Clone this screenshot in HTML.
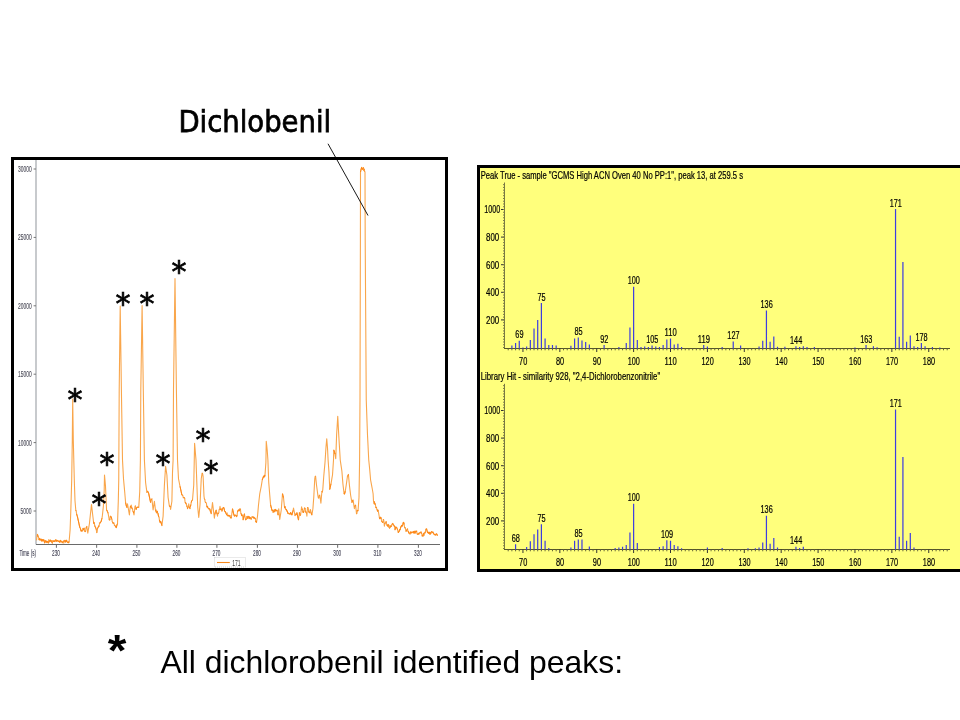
<!DOCTYPE html>
<html lang="en"><head><meta charset="utf-8"><title>Dichlobenil</title>
<style>html,body{margin:0;padding:0;background:#fff;}body{width:960px;height:720px;overflow:hidden;position:relative;font-family:"Liberation Sans",sans-serif;}svg{position:absolute;left:0;top:0;display:block;}text{white-space:pre;}</style>
</head><body>
<svg width="960" height="720" viewBox="0 0 960 720">
<defs><filter id="soft" x="-5%" y="-5%" width="110%" height="110%"><feGaussianBlur stdDeviation="0.35"/></filter></defs>
<rect width="960" height="720" fill="#ffffff"/>
<g id="chrom">
<rect x="12.5" y="158.5" width="434" height="411" fill="#ffffff" stroke="#000" stroke-width="3"/>
<g filter="url(#soft)">
<line x1="36.0" y1="160" x2="36.0" y2="544.5" stroke="#b0b4b8" stroke-width="1.4"/>
<line x1="36" y1="544.5" x2="440" y2="544.5" stroke="#6a6a6a" stroke-width="1"/>
<line x1="33.6" y1="169" x2="36" y2="169" stroke="#777" stroke-width="1"/>
<text x="31.6" y="172.0" font-size="8.3" fill="#50505c" text-anchor="end" textLength="13.5" lengthAdjust="spacingAndGlyphs" style='font-family:"Liberation Sans",sans-serif' stroke="#50505c" stroke-width="0.15">30000</text>
<line x1="33.6" y1="237.4" x2="36" y2="237.4" stroke="#777" stroke-width="1"/>
<text x="31.6" y="240.4" font-size="8.3" fill="#50505c" text-anchor="end" textLength="13.5" lengthAdjust="spacingAndGlyphs" style='font-family:"Liberation Sans",sans-serif' stroke="#50505c" stroke-width="0.15">25000</text>
<line x1="33.6" y1="305.8" x2="36" y2="305.8" stroke="#777" stroke-width="1"/>
<text x="31.6" y="308.8" font-size="8.3" fill="#50505c" text-anchor="end" textLength="13.5" lengthAdjust="spacingAndGlyphs" style='font-family:"Liberation Sans",sans-serif' stroke="#50505c" stroke-width="0.15">20000</text>
<line x1="33.6" y1="374.2" x2="36" y2="374.2" stroke="#777" stroke-width="1"/>
<text x="31.6" y="377.2" font-size="8.3" fill="#50505c" text-anchor="end" textLength="13.5" lengthAdjust="spacingAndGlyphs" style='font-family:"Liberation Sans",sans-serif' stroke="#50505c" stroke-width="0.15">15000</text>
<line x1="33.6" y1="442.6" x2="36" y2="442.6" stroke="#777" stroke-width="1"/>
<text x="31.6" y="445.6" font-size="8.3" fill="#50505c" text-anchor="end" textLength="13.5" lengthAdjust="spacingAndGlyphs" style='font-family:"Liberation Sans",sans-serif' stroke="#50505c" stroke-width="0.15">10000</text>
<line x1="33.6" y1="511" x2="36" y2="511" stroke="#777" stroke-width="1"/>
<text x="31.6" y="514.0" font-size="8.3" fill="#50505c" text-anchor="end" textLength="11" lengthAdjust="spacingAndGlyphs" style='font-family:"Liberation Sans",sans-serif' stroke="#50505c" stroke-width="0.15">5000</text>
<line x1="56.4" y1="544.5" x2="56.4" y2="547.8" stroke="#6c6c6c" stroke-width="1"/>
<text x="52.1" y="555.9" font-size="8.3" fill="#48485a" text-anchor="start" textLength="7.8" lengthAdjust="spacingAndGlyphs" style='font-family:"Liberation Sans",sans-serif' stroke="#48485a" stroke-width="0.15">230</text>
<line x1="96.65" y1="544.5" x2="96.65" y2="547.8" stroke="#6c6c6c" stroke-width="1"/>
<text x="92.35" y="555.9" font-size="8.3" fill="#48485a" text-anchor="start" textLength="7.8" lengthAdjust="spacingAndGlyphs" style='font-family:"Liberation Sans",sans-serif' stroke="#48485a" stroke-width="0.15">240</text>
<line x1="136.9" y1="544.5" x2="136.9" y2="547.8" stroke="#6c6c6c" stroke-width="1"/>
<text x="132.6" y="555.9" font-size="8.3" fill="#48485a" text-anchor="start" textLength="7.8" lengthAdjust="spacingAndGlyphs" style='font-family:"Liberation Sans",sans-serif' stroke="#48485a" stroke-width="0.15">250</text>
<line x1="176.9" y1="544.5" x2="176.9" y2="547.8" stroke="#6c6c6c" stroke-width="1"/>
<text x="172.6" y="555.9" font-size="8.3" fill="#48485a" text-anchor="start" textLength="7.8" lengthAdjust="spacingAndGlyphs" style='font-family:"Liberation Sans",sans-serif' stroke="#48485a" stroke-width="0.15">260</text>
<line x1="216.9" y1="544.5" x2="216.9" y2="547.8" stroke="#6c6c6c" stroke-width="1"/>
<text x="212.6" y="555.9" font-size="8.3" fill="#48485a" text-anchor="start" textLength="7.8" lengthAdjust="spacingAndGlyphs" style='font-family:"Liberation Sans",sans-serif' stroke="#48485a" stroke-width="0.15">270</text>
<line x1="257.4" y1="544.5" x2="257.4" y2="547.8" stroke="#6c6c6c" stroke-width="1"/>
<text x="253.1" y="555.9" font-size="8.3" fill="#48485a" text-anchor="start" textLength="7.8" lengthAdjust="spacingAndGlyphs" style='font-family:"Liberation Sans",sans-serif' stroke="#48485a" stroke-width="0.15">280</text>
<line x1="297.4" y1="544.5" x2="297.4" y2="547.8" stroke="#6c6c6c" stroke-width="1"/>
<text x="293.1" y="555.9" font-size="8.3" fill="#48485a" text-anchor="start" textLength="7.8" lengthAdjust="spacingAndGlyphs" style='font-family:"Liberation Sans",sans-serif' stroke="#48485a" stroke-width="0.15">290</text>
<line x1="337.65" y1="544.5" x2="337.65" y2="547.8" stroke="#6c6c6c" stroke-width="1"/>
<text x="333.35" y="555.9" font-size="8.3" fill="#48485a" text-anchor="start" textLength="7.8" lengthAdjust="spacingAndGlyphs" style='font-family:"Liberation Sans",sans-serif' stroke="#48485a" stroke-width="0.15">300</text>
<line x1="377.9" y1="544.5" x2="377.9" y2="547.8" stroke="#6c6c6c" stroke-width="1"/>
<text x="373.6" y="555.9" font-size="8.3" fill="#48485a" text-anchor="start" textLength="7.8" lengthAdjust="spacingAndGlyphs" style='font-family:"Liberation Sans",sans-serif' stroke="#48485a" stroke-width="0.15">310</text>
<line x1="418.4" y1="544.5" x2="418.4" y2="547.8" stroke="#6c6c6c" stroke-width="1"/>
<text x="414.1" y="555.9" font-size="8.3" fill="#48485a" text-anchor="start" textLength="7.8" lengthAdjust="spacingAndGlyphs" style='font-family:"Liberation Sans",sans-serif' stroke="#48485a" stroke-width="0.15">320</text>
<text x="19.4" y="555.9" font-size="8.3" fill="#48485a" text-anchor="start" textLength="16.6" lengthAdjust="spacingAndGlyphs" style='font-family:"Liberation Sans",sans-serif' stroke="#48485a" stroke-width="0.15">Time (s)</text>
<rect x="214.5" y="557.5" width="31" height="9.5" fill="#fff" stroke="#bbb" stroke-width="0.6" stroke-dasharray="1 1"/>
<line x1="217" y1="562.5" x2="229.8" y2="562.5" stroke="#f7891e" stroke-width="1.1"/>
<text x="232.2" y="566.2" font-size="9.5" fill="#444" text-anchor="start" textLength="8.4" lengthAdjust="spacingAndGlyphs" style='font-family:"Liberation Sans",sans-serif' >171</text>
<polyline points="36.50,540.40 36.90,537.30 37.30,534.20 37.65,534.75 38.00,536.50 38.45,536.76 38.90,539.40 39.30,540.06 39.70,538.25 40.10,539.97 40.50,540.00 40.88,539.84 41.25,539.10 41.62,540.93 42.00,541.20 42.38,539.55 42.75,540.82 43.12,539.51 43.50,540.90 43.88,539.86 44.25,541.34 44.62,543.06 45.00,542.30 45.38,540.70 45.75,540.71 46.12,541.76 46.50,541.00 46.88,542.72 47.25,541.66 47.62,541.25 48.00,541.80 48.38,543.12 48.75,539.66 49.12,542.12 49.50,540.60 49.93,540.18 50.37,539.99 50.80,541.50 51.20,540.57 51.60,541.58 52.00,542.60 52.38,543.22 52.75,540.61 53.12,541.53 53.50,540.80 53.88,541.47 54.25,540.77 54.62,541.56 55.00,541.60 55.42,539.91 55.84,539.70 56.26,540.00 56.68,541.41 57.10,540.60 57.48,540.57 57.86,540.41 58.24,541.55 58.62,541.32 59.00,541.70 59.40,540.88 59.80,542.42 60.20,541.96 60.60,540.27 61.00,541.00 61.40,541.43 61.80,541.45 62.20,542.82 62.60,542.50 63.00,541.90 63.40,541.04 63.80,543.25 64.20,540.18 64.60,541.06 65.00,541.20 65.40,542.19 65.80,540.26 66.20,541.52 66.60,540.11 67.00,541.80 67.42,542.31 67.84,542.58 68.26,541.87 68.68,542.84 69.10,541.50 69.60,535.75 70.10,530.00 70.45,520.50 70.80,511.00 71.25,495.50 71.70,480.00 72.30,440.00 72.70,399.00 73.30,440.00 73.80,460.00 74.30,480.00 74.65,490.40 75.00,500.80 75.40,505.50 75.80,510.20 76.20,511.14 76.60,514.01 77.00,515.25 77.40,516.50 77.80,518.31 78.20,520.12 78.60,521.94 79.00,523.75 79.50,526.10 80.00,527.90 80.42,528.37 80.84,530.30 81.26,531.27 81.68,530.29 82.10,531.00 82.52,530.96 82.94,528.31 83.36,529.89 83.78,529.10 84.20,528.00 84.70,531.48 85.20,531.60 85.60,531.39 86.00,528.27 86.40,527.31 86.80,526.40 87.30,529.75 87.80,533.10 88.20,530.76 88.60,528.42 89.00,526.09 89.40,523.75 89.90,519.08 90.40,514.40 90.77,511.10 91.13,507.80 91.50,504.50 92.00,508.90 92.50,513.30 93.00,517.50 93.50,521.70 93.90,523.57 94.30,522.68 94.70,525.47 95.10,526.90 95.50,527.20 95.90,528.45 96.30,529.68 96.70,532.60 97.11,532.15 97.52,528.62 97.93,527.66 98.34,526.79 98.75,525.80 99.16,526.24 99.57,522.73 99.98,523.17 100.39,522.69 100.80,521.70 101.20,521.43 101.60,519.64 102.00,518.21 102.40,515.40 102.90,510.70 103.40,506.00 103.80,498.20 104.20,490.40 104.50,475.00 105.00,480.62 105.50,486.25 105.87,494.23 106.23,502.22 106.60,510.20 106.97,510.22 107.35,511.46 107.72,512.04 108.10,513.30 108.47,515.40 108.83,517.50 109.20,519.60 109.58,520.13 109.95,519.61 110.33,516.09 110.70,516.50 111.10,516.70 111.50,518.19 111.90,519.49 112.30,521.70 112.72,522.37 113.14,523.44 113.56,523.05 113.98,522.89 114.40,525.30 114.78,525.42 115.15,525.66 115.53,526.73 115.90,526.90 116.30,527.65 116.70,525.97 117.10,524.59 117.50,523.75 117.90,512.27 118.30,500.80 118.75,480.00 119.20,390.00 119.70,348.00 120.20,306.00 120.60,334.00 121.00,362.00 121.40,390.00 121.77,413.33 122.13,436.67 122.50,460.00 123.00,469.38 123.50,478.75 123.92,483.33 124.33,487.92 124.75,492.50 125.17,497.50 125.60,502.50 126.03,504.57 126.47,506.43 126.90,507.50 127.50,503.75 127.88,506.00 128.26,508.25 128.64,510.50 129.02,512.75 129.40,515.00 130.00,508.75 130.42,505.98 130.83,507.61 131.25,505.00 131.67,507.20 132.08,508.77 132.50,508.75 132.88,511.33 133.25,511.51 133.62,513.09 134.00,515.00 134.50,510.62 135.00,506.25 135.42,505.95 135.83,508.81 136.25,509.40 136.67,507.59 137.08,507.30 137.50,507.46 137.92,506.99 138.33,507.27 138.75,507.50 139.25,499.38 139.75,491.25 140.07,475.62 140.40,460.00 140.80,390.00 141.23,361.87 141.67,333.73 142.10,305.60 142.50,333.73 142.90,361.87 143.30,390.00 143.67,413.33 144.03,436.67 144.40,460.00 144.80,467.50 145.20,475.00 145.60,482.50 146.03,485.83 146.47,489.17 146.90,492.50 147.36,491.29 147.82,491.43 148.29,492.25 148.75,493.75 149.21,495.94 149.68,498.12 150.14,500.31 150.60,502.50 151.03,499.89 151.47,499.54 151.90,498.75 152.30,502.50 152.70,506.25 153.10,510.00 153.53,507.08 153.97,504.17 154.40,501.25 154.80,504.58 155.20,507.92 155.60,511.25 155.98,509.89 156.36,513.02 156.74,512.39 157.12,511.06 157.50,512.50 157.88,513.16 158.26,514.98 158.64,516.54 159.02,517.22 159.40,520.00 159.80,521.60 160.20,522.51 160.60,521.25 161.03,522.58 161.47,524.10 161.90,525.60 162.30,522.48 162.70,519.37 163.10,516.25 163.53,505.83 163.97,495.42 164.40,485.00 164.80,478.75 165.20,472.50 165.60,466.25 166.03,469.17 166.47,472.08 166.90,475.00 167.30,482.50 167.70,490.00 168.10,497.50 168.53,500.42 168.97,503.33 169.40,506.25 169.80,505.89 170.20,507.00 170.60,509.40 171.03,506.68 171.47,503.97 171.90,501.25 172.50,472.50 173.10,460.00 173.50,390.00 173.88,362.12 174.25,334.25 174.62,306.38 175.00,278.50 175.47,315.67 175.93,352.83 176.40,390.00 176.77,413.33 177.13,436.67 177.50,460.00 178.00,469.38 178.50,478.75 178.88,480.62 179.25,482.50 179.62,484.38 180.00,486.25 180.38,488.00 180.76,489.75 181.14,491.50 181.52,493.25 181.90,495.00 182.36,495.09 182.82,495.45 183.29,497.99 183.75,497.50 184.21,497.60 184.68,498.38 185.14,502.78 185.60,502.50 185.98,503.85 186.36,503.80 186.74,506.40 187.12,505.89 187.50,508.75 187.92,507.18 188.33,507.04 188.75,503.75 189.17,506.65 189.58,507.75 190.00,508.75 190.42,506.67 190.83,504.58 191.25,502.50 191.67,500.85 192.08,500.38 192.50,500.00 192.92,495.00 193.33,490.00 193.75,485.00 194.18,464.15 194.60,443.30 195.07,448.87 195.53,454.43 196.00,460.00 196.45,472.50 196.90,485.00 197.32,496.25 197.75,507.50 198.25,512.50 198.75,517.50 199.17,513.33 199.58,509.17 200.00,505.00 200.42,496.25 200.83,487.50 201.25,478.75 201.68,475.93 202.10,473.10 202.60,473.54 203.10,476.25 203.55,486.25 204.00,496.25 204.40,498.74 204.80,499.49 205.20,501.89 205.60,502.50 205.98,502.67 206.36,503.06 206.74,505.81 207.12,507.15 207.50,506.25 207.88,507.95 208.26,508.29 208.64,508.83 209.02,509.07 209.40,508.75 209.86,509.07 210.32,511.31 210.79,512.01 211.25,513.75 211.67,510.00 212.08,506.25 212.50,502.50 212.88,505.62 213.26,508.74 213.64,511.86 214.02,514.98 214.40,518.10 214.86,514.47 215.32,512.44 215.79,511.28 216.25,510.00 216.67,512.08 217.08,514.17 217.50,516.25 217.92,513.76 218.33,513.57 218.75,512.80 219.17,509.40 219.58,509.40 220.00,506.25 220.38,508.91 220.76,509.80 221.14,508.79 221.52,509.30 221.90,511.25 222.36,509.38 222.82,508.34 223.29,507.43 223.75,507.50 224.17,508.96 224.58,510.94 225.00,511.78 225.42,511.60 225.83,513.23 226.25,513.75 226.67,514.98 227.08,512.75 227.50,514.92 227.92,515.98 228.33,515.75 228.75,515.00 229.17,516.37 229.58,515.96 230.00,515.46 230.42,518.05 230.83,517.01 231.25,518.10 231.67,514.98 232.08,511.87 232.50,508.75 232.87,510.42 233.23,512.08 233.60,513.75 234.07,515.19 234.53,516.19 235.00,515.00 235.42,515.06 235.83,515.50 236.25,516.25 236.67,516.73 237.08,514.93 237.50,512.00 237.92,510.82 238.33,509.86 238.75,510.00 239.17,510.96 239.58,510.21 240.00,508.75 240.42,509.21 240.83,513.19 241.25,513.75 241.67,515.80 242.08,515.12 242.50,515.00 243.10,520.00 243.53,517.92 243.97,515.83 244.40,513.75 244.80,515.83 245.20,517.92 245.60,520.00 245.98,518.99 246.36,519.17 246.74,517.25 247.12,516.35 247.50,517.50 247.92,518.68 248.33,517.18 248.75,516.25 249.21,516.80 249.68,518.65 250.14,517.41 250.60,518.10 251.02,519.26 251.43,519.01 251.85,516.82 252.27,516.86 252.68,516.90 253.10,517.50 253.48,516.87 253.86,518.29 254.24,517.43 254.62,518.22 255.00,518.75 255.38,518.43 255.75,522.02 256.12,521.07 256.50,522.50 257.00,519.38 257.50,516.25 258.00,510.62 258.50,505.00 258.92,501.25 259.33,497.50 259.75,493.75 260.12,491.88 260.50,490.00 260.88,488.12 261.25,486.25 261.75,483.12 262.25,480.00 262.67,478.61 263.08,477.78 263.50,476.25 263.88,477.31 264.25,475.36 264.62,476.73 265.00,475.00 265.45,468.75 265.90,462.50 266.25,441.25 266.73,445.62 267.20,450.00 267.55,455.00 267.90,460.00 268.32,471.25 268.75,482.50 269.25,488.75 269.75,495.00 270.18,500.00 270.60,505.00 271.03,506.67 271.47,508.44 271.90,510.00 272.30,510.91 272.70,510.03 273.10,512.50 273.48,511.92 273.86,510.66 274.24,509.67 274.62,512.00 275.00,510.60 275.38,509.37 275.76,510.27 276.14,511.01 276.52,510.31 276.90,510.00 277.30,511.08 277.70,513.40 278.10,515.00 278.43,511.88 278.75,508.75 279.25,514.08 279.75,519.40 280.12,517.05 280.50,514.70 280.88,512.35 281.25,510.00 281.67,504.58 282.08,499.17 282.50,493.75 283.00,495.81 283.50,497.50 283.95,501.88 284.40,506.25 284.80,508.05 285.20,506.58 285.60,508.75 286.03,509.79 286.47,509.56 286.90,511.25 287.36,511.12 287.82,513.43 288.29,513.15 288.75,513.75 289.21,513.65 289.68,514.01 290.14,514.21 290.60,512.50 291.03,513.14 291.47,514.55 291.90,515.00 292.30,513.29 292.70,511.59 293.10,510.48 293.50,508.10 293.88,509.98 294.25,511.85 294.62,513.73 295.00,515.60 295.38,514.82 295.76,514.47 296.14,513.67 296.52,514.62 296.90,512.50 297.30,514.38 297.70,516.25 298.10,518.12 298.50,520.00 298.95,516.25 299.40,512.50 299.80,514.01 300.20,515.45 300.60,515.00 301.10,510.95 301.60,506.90 301.98,509.80 302.35,508.88 302.73,511.30 303.10,512.50 303.53,512.54 303.97,510.72 304.40,508.10 304.80,507.92 305.20,508.91 305.60,511.25 306.03,512.72 306.47,513.13 306.90,516.25 307.50,507.50 307.88,507.62 308.26,508.05 308.64,511.08 309.02,512.47 309.40,512.50 309.80,513.02 310.20,509.66 310.60,510.00 311.03,512.40 311.47,513.88 311.90,515.00 312.40,511.88 312.90,508.75 313.32,503.12 313.75,497.50 314.25,488.12 314.75,478.75 315.18,476.29 315.60,476.25 316.05,480.62 316.50,485.00 317.00,488.75 317.50,492.50 317.92,495.67 318.33,497.82 318.75,498.10 319.25,495.60 319.75,495.00 320.13,497.70 320.52,500.40 320.90,503.10 321.40,497.18 321.90,491.25 322.32,492.16 322.75,490.00 323.25,483.12 323.75,476.25 324.17,471.67 324.58,467.08 325.00,462.50 325.50,454.75 326.00,447.00 326.38,442.88 326.75,438.75 327.12,443.38 327.50,448.00 328.10,460.00 328.55,466.25 329.00,472.50 329.38,480.95 329.75,489.40 330.17,487.52 330.58,485.63 331.00,483.75 331.38,481.56 331.75,479.38 332.12,477.19 332.50,475.00 333.00,467.50 333.50,460.00 333.75,450.00 334.17,450.99 334.58,452.62 335.00,454.00 335.38,456.38 335.75,458.75 336.18,446.88 336.60,435.00 336.98,428.75 337.37,422.50 337.75,416.25 338.10,422.83 338.45,429.42 338.80,436.00 339.28,444.00 339.77,452.00 340.25,460.00 340.66,462.81 341.07,465.62 341.49,468.44 341.90,471.25 342.40,477.50 342.90,483.75 343.27,486.87 343.63,489.98 344.00,493.10 344.42,494.15 344.83,493.00 345.25,491.25 345.75,488.12 346.25,485.00 346.68,481.88 347.10,478.75 347.53,476.15 347.97,475.62 348.40,474.40 348.90,479.70 349.40,485.00 349.80,488.33 350.20,491.67 350.60,495.00 351.03,497.50 351.47,500.00 351.90,502.50 352.30,501.72 352.70,500.29 353.10,500.00 353.53,502.92 353.97,505.83 354.40,508.75 354.80,506.47 355.20,505.63 355.60,505.00 356.05,509.38 356.50,513.75 356.90,513.57 357.30,510.24 357.70,511.12 358.10,510.00 358.55,503.75 359.00,497.50 359.60,460.00 360.00,400.00 360.40,240.00 360.50,172.00 360.85,170.30 361.20,169.00 361.64,167.36 362.09,168.43 362.53,169.42 362.97,169.04 363.41,167.52 363.86,170.65 364.30,169.00 364.65,171.48 365.00,172.00 365.20,240.00 365.55,293.33 365.90,346.67 366.25,400.00 366.67,411.67 367.08,423.33 367.50,435.00 367.92,443.33 368.33,451.67 368.75,460.00 369.25,465.00 369.75,470.00 370.18,475.00 370.60,480.00 371.01,482.19 371.43,484.38 371.84,486.56 372.25,488.75 372.68,491.25 373.10,493.75 373.50,501.25 373.88,503.64 374.25,501.48 374.62,502.82 375.00,504.40 375.38,503.95 375.76,507.59 376.14,506.98 376.52,507.62 376.90,510.00 377.30,509.74 377.70,511.40 378.10,510.00 378.53,512.50 378.97,515.00 379.40,517.50 379.86,518.90 380.32,517.30 380.79,517.25 381.25,518.75 381.67,521.43 382.08,521.49 382.50,522.50 382.92,522.35 383.33,519.44 383.75,520.00 384.07,523.12 384.40,526.25 384.80,523.30 385.20,523.99 385.60,521.90 385.98,522.27 386.36,521.69 386.74,525.25 387.12,524.84 387.50,525.00 387.92,526.44 388.33,524.42 388.75,527.46 389.17,525.19 389.58,528.32 390.00,527.50 390.38,526.72 390.76,525.71 391.14,525.82 391.52,526.47 391.90,524.40 392.36,523.76 392.82,523.44 393.29,524.94 393.75,525.00 394.17,525.78 394.58,527.01 395.00,530.00 395.42,528.02 395.83,526.80 396.25,527.50 396.70,527.49 397.15,528.86 397.60,529.84 398.05,532.38 398.50,532.50 398.88,531.16 399.25,531.25 399.62,529.53 400.00,530.00 400.38,528.73 400.76,526.86 401.14,526.90 401.52,525.35 401.90,526.25 402.36,526.10 402.82,524.55 403.29,522.38 403.75,522.50 404.17,524.28 404.58,527.71 405.00,528.10 405.42,527.81 405.83,531.28 406.25,531.25 406.67,530.19 407.08,529.57 407.50,528.75 407.92,531.34 408.33,531.29 408.75,533.10 409.17,532.92 409.58,533.34 410.00,534.14 410.42,531.77 410.83,533.23 411.25,531.90 411.67,532.80 412.08,532.76 412.50,532.18 412.92,532.18 413.33,531.38 413.75,533.10 414.17,531.64 414.58,531.24 415.00,533.32 415.42,531.47 415.83,530.96 416.25,531.90 416.67,530.90 417.08,533.89 417.50,534.41 417.92,534.15 418.33,533.24 418.75,534.40 419.21,533.05 419.68,532.75 420.14,532.84 420.60,532.50 420.98,531.84 421.36,533.32 421.74,533.20 422.12,536.07 422.50,535.00 422.92,536.29 423.33,534.53 423.75,533.18 424.17,535.32 424.58,532.77 425.00,533.10 425.38,531.52 425.75,529.23 426.12,529.44 426.50,528.75 427.00,530.54 427.50,532.50 427.92,532.83 428.33,532.12 428.75,533.47 429.17,532.08 429.58,533.28 430.00,534.40 430.42,532.69 430.83,533.43 431.25,531.89 431.67,531.51 432.08,532.15 432.50,532.50 432.92,531.91 433.33,533.42 433.75,533.55 434.17,534.62 434.58,534.62 435.00,534.40 435.42,534.92 435.83,535.26 436.25,533.75 436.67,533.99 437.08,534.39 437.50,535.60" fill="none" stroke="#f9a64c" stroke-width="1.1" stroke-linejoin="round"/>
<path d="M37.30 534.20L37.65 534.75L38.00 536.50L38.45 536.76M38.90 539.40L39.30 540.06L39.70 538.25L40.10 539.97L40.50 540.00L40.88 539.84L41.25 539.10L41.62 540.93L42.00 541.20L42.38 539.55L42.75 540.82L43.12 539.51L43.50 540.90L43.88 539.86L44.25 541.34L44.62 543.06L45.00 542.30L45.38 540.70L45.75 540.71L46.12 541.76L46.50 541.00L46.88 542.72L47.25 541.66L47.62 541.25L48.00 541.80L48.38 543.12M49.12 542.12L49.50 540.60L49.93 540.18L50.37 539.99L50.80 541.50L51.20 540.57L51.60 541.58L52.00 542.60L52.38 543.22M52.75 540.61L53.12 541.53L53.50 540.80L53.88 541.47L54.25 540.77L54.62 541.56L55.00 541.60L55.42 539.91L55.84 539.70L56.26 540.00L56.68 541.41L57.10 540.60L57.48 540.57L57.86 540.41L58.24 541.55L58.62 541.32L59.00 541.70L59.40 540.88L59.80 542.42L60.20 541.96L60.60 540.27L61.00 541.00L61.40 541.43L61.80 541.45L62.20 542.82L62.60 542.50L63.00 541.90L63.40 541.04M64.20 540.18L64.60 541.06L65.00 541.20L65.40 542.19L65.80 540.26L66.20 541.52L66.60 540.11L67.00 541.80L67.42 542.31L67.84 542.58L68.26 541.87L68.68 542.84L69.10 541.50M75.80 510.20L76.20 511.14M76.60 514.01L77.00 515.25L77.40 516.50L77.80 518.31L78.20 520.12L78.60 521.94L79.00 523.75L79.50 526.10L80.00 527.90L80.42 528.37L80.84 530.30L81.26 531.27L81.68 530.29L82.10 531.00L82.52 530.96M82.94 528.31L83.36 529.89L83.78 529.10L84.20 528.00M84.70 531.48L85.20 531.60L85.60 531.39M86.00 528.27L86.40 527.31L86.80 526.40M93.50 521.70L93.90 523.57L94.30 522.68M94.70 525.47L95.10 526.90L95.50 527.20L95.90 528.45L96.30 529.68M96.70 532.60L97.11 532.15M97.52 528.62L97.93 527.66L98.34 526.79L98.75 525.80L99.16 526.24M99.57 522.73L99.98 523.17L100.39 522.69L100.80 521.70L101.20 521.43L101.60 519.64L102.00 518.21M106.60 510.20L106.97 510.22L107.35 511.46L107.72 512.04L108.10 513.30M109.20 519.60L109.58 520.13L109.95 519.61M110.33 516.09L110.70 516.50L111.10 516.70L111.50 518.19L111.90 519.49M112.30 521.70L112.72 522.37L113.14 523.44L113.56 523.05L113.98 522.89M114.40 525.30L114.78 525.42L115.15 525.66L115.53 526.73L115.90 526.90L116.30 527.65L116.70 525.97L117.10 524.59L117.50 523.75M125.60 502.50L126.03 504.57L126.47 506.43L126.90 507.50M130.42 505.98L130.83 507.61M131.67 507.20L132.08 508.77L132.50 508.75M132.88 511.33L133.25 511.51L133.62 513.09M135.00 506.25L135.42 505.95M135.83 508.81L136.25 509.40L136.67 507.59L137.08 507.30L137.50 507.46L137.92 506.99L138.33 507.27L138.75 507.50M146.90 492.50L147.36 491.29L147.82 491.43L148.29 492.25L148.75 493.75L149.21 495.94L149.68 498.12L150.14 500.31L150.60 502.50M151.03 499.89L151.47 499.54L151.90 498.75M155.60 511.25L155.98 509.89M156.36 513.02L156.74 512.39L157.12 511.06L157.50 512.50L157.88 513.16L158.26 514.98L158.64 516.54L159.02 517.22M159.40 520.00L159.80 521.60L160.20 522.51L160.60 521.25L161.03 522.58L161.47 524.10L161.90 525.60M169.40 506.25L169.80 505.89L170.20 507.00M180.00 486.25L180.38 488.00L180.76 489.75L181.14 491.50L181.52 493.25L181.90 495.00L182.36 495.09L182.82 495.45M183.29 497.99L183.75 497.50L184.21 497.60L184.68 498.38M185.14 502.78L185.60 502.50L185.98 503.85L186.36 503.80M186.74 506.40L187.12 505.89M187.50 508.75L187.92 507.18L188.33 507.04M189.17 506.65L189.58 507.75L190.00 508.75M190.42 506.67L190.83 504.58M191.25 502.50L191.67 500.85L192.08 500.38L192.50 500.00M202.10 473.10L202.60 473.54M204.40 498.74L204.80 499.49M205.20 501.89L205.60 502.50L205.98 502.67L206.36 503.06M206.74 505.81L207.12 507.15L207.50 506.25L207.88 507.95L208.26 508.29L208.64 508.83L209.02 509.07L209.40 508.75L209.86 509.07L210.32 511.31L210.79 512.01L211.25 513.75M214.86 514.47L215.32 512.44L215.79 511.28L216.25 510.00M216.67 512.08L217.08 514.17M217.92 513.76L218.33 513.57L218.75 512.80M219.17 509.40L219.58 509.40M220.38 508.91L220.76 509.80L221.14 508.79L221.52 509.30M221.90 511.25L222.36 509.38L222.82 508.34L223.29 507.43L223.75 507.50L224.17 508.96L224.58 510.94L225.00 511.78L225.42 511.60L225.83 513.23L226.25 513.75L226.67 514.98M227.50 514.92L227.92 515.98L228.33 515.75L228.75 515.00L229.17 516.37L229.58 515.96L230.00 515.46M230.42 518.05L230.83 517.01L231.25 518.10M232.50 508.75L232.87 510.42L233.23 512.08L233.60 513.75L234.07 515.19L234.53 516.19L235.00 515.00L235.42 515.06L235.83 515.50L236.25 516.25L236.67 516.73L237.08 514.93M237.50 512.00L237.92 510.82L238.33 509.86L238.75 510.00L239.17 510.96L239.58 510.21L240.00 508.75L240.42 509.21M240.83 513.19L241.25 513.75L241.67 515.80L242.08 515.12L242.50 515.00M243.10 520.00L243.53 517.92L243.97 515.83L244.40 513.75M245.60 520.00L245.98 518.99L246.36 519.17M246.74 517.25L247.12 516.35L247.50 517.50L247.92 518.68L248.33 517.18L248.75 516.25L249.21 516.80L249.68 518.65L250.14 517.41L250.60 518.10L251.02 519.26L251.43 519.01M251.85 516.82L252.27 516.86L252.68 516.90L253.10 517.50L253.48 516.87L253.86 518.29L254.24 517.43L254.62 518.22L255.00 518.75L255.38 518.43M255.75 522.02L256.12 521.07L256.50 522.50M262.25 480.00L262.67 478.61L263.08 477.78L263.50 476.25L263.88 477.31M264.25 475.36L264.62 476.73L265.00 475.00M270.60 505.00L271.03 506.67L271.47 508.44L271.90 510.00L272.30 510.91L272.70 510.03M273.10 512.50L273.48 511.92L273.86 510.66L274.24 509.67M274.62 512.00L275.00 510.60L275.38 509.37L275.76 510.27L276.14 511.01L276.52 510.31L276.90 510.00L277.30 511.08M277.70 513.40L278.10 515.00M282.50 493.75L283.00 495.81L283.50 497.50M284.40 506.25L284.80 508.05L285.20 506.58M285.60 508.75L286.03 509.79L286.47 509.56L286.90 511.25L287.36 511.12L287.82 513.43L288.29 513.15L288.75 513.75L289.21 513.65L289.68 514.01L290.14 514.21L290.60 512.50L291.03 513.14L291.47 514.55L291.90 515.00L292.30 513.29L292.70 511.59L293.10 510.48M295.00 515.60L295.38 514.82L295.76 514.47L296.14 513.67L296.52 514.62M296.90 512.50L297.30 514.38L297.70 516.25L298.10 518.12L298.50 520.00M299.40 512.50L299.80 514.01L300.20 515.45L300.60 515.00M301.98 509.80L302.35 508.88M302.73 511.30L303.10 512.50L303.53 512.54L303.97 510.72M304.40 508.10L304.80 507.92L305.20 508.91M305.60 511.25L306.03 512.72L306.47 513.13M307.50 507.50L307.88 507.62L308.26 508.05M308.64 511.08L309.02 512.47L309.40 512.50L309.80 513.02M310.20 509.66L310.60 510.00M311.03 512.40L311.47 513.88L311.90 515.00M315.18 476.29L315.60 476.25M318.33 497.82L318.75 498.10M319.25 495.60L319.75 495.00M321.90 491.25L322.32 492.16M329.75 489.40L330.17 487.52L330.58 485.63L331.00 483.75M333.75 450.00L334.17 450.99L334.58 452.62L335.00 454.00M344.00 493.10L344.42 494.15L344.83 493.00L345.25 491.25M347.53 476.15L347.97 475.62L348.40 474.40M351.90 502.50L352.30 501.72L352.70 500.29L353.10 500.00M354.80 506.47L355.20 505.63L355.60 505.00M356.50 513.75L356.90 513.57M357.30 510.24L357.70 511.12L358.10 510.00M360.50 172.00L360.85 170.30L361.20 169.00L361.64 167.36L362.09 168.43L362.53 169.42L362.97 169.04L363.41 167.52M363.86 170.65L364.30 169.00M364.65 171.48L365.00 172.00M374.25 501.48L374.62 502.82L375.00 504.40L375.38 503.95M375.76 507.59L376.14 506.98L376.52 507.62M376.90 510.00L377.30 509.74L377.70 511.40L378.10 510.00M379.40 517.50L379.86 518.90L380.32 517.30L380.79 517.25L381.25 518.75M381.67 521.43L382.08 521.49L382.50 522.50L382.92 522.35M383.33 519.44L383.75 520.00M384.80 523.30L385.20 523.99M385.60 521.90L385.98 522.27L386.36 521.69M386.74 525.25L387.12 524.84L387.50 525.00L387.92 526.44L388.33 524.42M389.58 528.32L390.00 527.50L390.38 526.72L390.76 525.71L391.14 525.82L391.52 526.47M391.90 524.40L392.36 523.76L392.82 523.44L393.29 524.94L393.75 525.00L394.17 525.78L394.58 527.01M395.00 530.00L395.42 528.02L395.83 526.80L396.25 527.50L396.70 527.49L397.15 528.86L397.60 529.84M398.05 532.38L398.50 532.50L398.88 531.16L399.25 531.25L399.62 529.53L400.00 530.00L400.38 528.73L400.76 526.86L401.14 526.90L401.52 525.35L401.90 526.25L402.36 526.10L402.82 524.55L403.29 522.38L403.75 522.50L404.17 524.28M404.58 527.71L405.00 528.10L405.42 527.81M405.83 531.28L406.25 531.25L406.67 530.19L407.08 529.57L407.50 528.75M407.92 531.34L408.33 531.29L408.75 533.10L409.17 532.92L409.58 533.34L410.00 534.14M410.42 531.77L410.83 533.23L411.25 531.90L411.67 532.80L412.08 532.76L412.50 532.18L412.92 532.18L413.33 531.38L413.75 533.10L414.17 531.64L414.58 531.24L415.00 533.32L415.42 531.47L415.83 530.96L416.25 531.90L416.67 530.90M417.08 533.89L417.50 534.41L417.92 534.15L418.33 533.24L418.75 534.40L419.21 533.05L419.68 532.75L420.14 532.84L420.60 532.50L420.98 531.84L421.36 533.32L421.74 533.20M422.12 536.07L422.50 535.00L422.92 536.29L423.33 534.53L423.75 533.18M424.58 532.77L425.00 533.10L425.38 531.52M425.75 529.23L426.12 529.44L426.50 528.75L427.00 530.54L427.50 532.50L427.92 532.83L428.33 532.12L428.75 533.47L429.17 532.08L429.58 533.28L430.00 534.40L430.42 532.69L430.83 533.43L431.25 531.89L431.67 531.51L432.08 532.15L432.50 532.50L432.92 531.91L433.33 533.42L433.75 533.55L434.17 534.62L434.58 534.62L435.00 534.40L435.42 534.92L435.83 535.26L436.25 533.75L436.67 533.99L437.08 534.39L437.50 535.60" fill="none" stroke="#ff8514" stroke-width="1" stroke-linejoin="round"/>
</g>
</g>
<text x="123.00" y="313.60" font-size="30" text-anchor="middle" stroke="#000" stroke-width="0.75" stroke-linejoin="miter" style='font-family:"DejaVu Sans",sans-serif'>*</text>
<text x="147.00" y="313.60" font-size="30" text-anchor="middle" stroke="#000" stroke-width="0.75" stroke-linejoin="miter" style='font-family:"DejaVu Sans",sans-serif'>*</text>
<text x="179.00" y="281.70" font-size="30" text-anchor="middle" stroke="#000" stroke-width="0.75" stroke-linejoin="miter" style='font-family:"DejaVu Sans",sans-serif'>*</text>
<text x="74.95" y="409.65" font-size="30" text-anchor="middle" stroke="#000" stroke-width="0.75" stroke-linejoin="miter" style='font-family:"DejaVu Sans",sans-serif'>*</text>
<text x="107.00" y="473.70" font-size="30" text-anchor="middle" stroke="#000" stroke-width="0.75" stroke-linejoin="miter" style='font-family:"DejaVu Sans",sans-serif'>*</text>
<text x="98.90" y="513.70" font-size="30" text-anchor="middle" stroke="#000" stroke-width="0.75" stroke-linejoin="miter" style='font-family:"DejaVu Sans",sans-serif'>*</text>
<text x="163.00" y="473.70" font-size="30" text-anchor="middle" stroke="#000" stroke-width="0.75" stroke-linejoin="miter" style='font-family:"DejaVu Sans",sans-serif'>*</text>
<text x="203.00" y="449.60" font-size="30" text-anchor="middle" stroke="#000" stroke-width="0.75" stroke-linejoin="miter" style='font-family:"DejaVu Sans",sans-serif'>*</text>
<text x="211.10" y="481.70" font-size="30" text-anchor="middle" stroke="#000" stroke-width="0.75" stroke-linejoin="miter" style='font-family:"DejaVu Sans",sans-serif'>*</text>
<g id="ms">
<rect x="477" y="165" width="490" height="407" fill="#000"/>
<rect x="480" y="168" width="485" height="401" fill="#ffff7c"/>
<g filter="url(#soft)">
<text x="480.7" y="178.8" font-size="10.5" fill="#000" text-anchor="start" textLength="262.3" lengthAdjust="spacingAndGlyphs" style='font-family:"Liberation Sans",sans-serif' stroke="#000" stroke-width="0.22">Peak True - sample &quot;GCMS High ACN Oven 40 No PP:1&quot;, peak 13, at 259.5 s</text>
<line x1="504.5" y1="182.5" x2="504.5" y2="348.5" stroke="#6a6a3c" stroke-width="0.9"/>
<line x1="504" y1="348.5" x2="950" y2="348.5" stroke="#55552a" stroke-width="1"/>
<line x1="501" y1="319.90" x2="504" y2="319.90" stroke="#333" stroke-width="1"/>
<text x="499.2" y="323.7" font-size="11" fill="#000" text-anchor="end" textLength="13.2" lengthAdjust="spacingAndGlyphs" style='font-family:"Liberation Sans",sans-serif' stroke="#000" stroke-width="0.22">200</text>
<line x1="501" y1="292.30" x2="504" y2="292.30" stroke="#333" stroke-width="1"/>
<text x="499.2" y="296.1" font-size="11" fill="#000" text-anchor="end" textLength="13.2" lengthAdjust="spacingAndGlyphs" style='font-family:"Liberation Sans",sans-serif' stroke="#000" stroke-width="0.22">400</text>
<line x1="501" y1="264.70" x2="504" y2="264.70" stroke="#333" stroke-width="1"/>
<text x="499.2" y="268.5" font-size="11" fill="#000" text-anchor="end" textLength="13.2" lengthAdjust="spacingAndGlyphs" style='font-family:"Liberation Sans",sans-serif' stroke="#000" stroke-width="0.22">600</text>
<line x1="501" y1="237.10" x2="504" y2="237.10" stroke="#333" stroke-width="1"/>
<text x="499.2" y="240.9" font-size="11" fill="#000" text-anchor="end" textLength="13.2" lengthAdjust="spacingAndGlyphs" style='font-family:"Liberation Sans",sans-serif' stroke="#000" stroke-width="0.22">800</text>
<line x1="501" y1="209.50" x2="504" y2="209.50" stroke="#333" stroke-width="1"/>
<text x="500.2" y="213.3" font-size="11" fill="#000" text-anchor="end" textLength="16.0" lengthAdjust="spacingAndGlyphs" style='font-family:"Liberation Sans",sans-serif' stroke="#000" stroke-width="0.22">1000</text>
<path d="M503 347.50H504M503 344.74H504M503 341.98H504M503 339.22H504M503 336.46H504M503 333.70H504M503 330.94H504M503 328.18H504M503 325.42H504M503 322.66H504M503 319.90H504M503 317.14H504M503 314.38H504M503 311.62H504M503 308.86H504M503 306.10H504M503 303.34H504M503 300.58H504M503 297.82H504M503 295.06H504M503 292.30H504M503 289.54H504M503 286.78H504M503 284.02H504M503 281.26H504M503 278.50H504M503 275.74H504M503 272.98H504M503 270.22H504M503 267.46H504M503 264.70H504M503 261.94H504M503 259.18H504M503 256.42H504M503 253.66H504M503 250.90H504M503 248.14H504M503 245.38H504M503 242.62H504M503 239.86H504M503 237.10H504M503 234.34H504M503 231.58H504M503 228.82H504M503 226.06H504M503 223.30H504M503 220.54H504M503 217.78H504M503 215.02H504M503 212.26H504M503 209.50H504M503 206.74H504M503 203.98H504M503 201.22H504M503 198.46H504M503 195.70H504M503 192.94H504M503 190.18H504M503 187.42H504M503 184.66H504" stroke="#7a7a48" stroke-width="1" fill="none"/>
<path d="M508.20 348.5V350.3M511.89 348.5V350.3M515.58 348.5V350.3M519.27 348.5V350.3M526.64 348.5V350.3M530.33 348.5V350.3M534.02 348.5V350.3M537.71 348.5V350.3M541.40 348.5V350.3M545.09 348.5V350.3M548.78 348.5V350.3M552.47 348.5V350.3M556.16 348.5V350.3M563.53 348.5V350.3M567.22 348.5V350.3M570.91 348.5V350.3M574.60 348.5V350.3M578.29 348.5V350.3M581.98 348.5V350.3M585.67 348.5V350.3M589.36 348.5V350.3M593.05 348.5V350.3M600.42 348.5V350.3M604.11 348.5V350.3M607.80 348.5V350.3M611.49 348.5V350.3M615.18 348.5V350.3M618.87 348.5V350.3M622.56 348.5V350.3M626.25 348.5V350.3M629.94 348.5V350.3M637.31 348.5V350.3M641.00 348.5V350.3M644.69 348.5V350.3M648.38 348.5V350.3M652.07 348.5V350.3M655.76 348.5V350.3M659.45 348.5V350.3M663.14 348.5V350.3M666.83 348.5V350.3M674.20 348.5V350.3M677.89 348.5V350.3M681.58 348.5V350.3M685.27 348.5V350.3M688.96 348.5V350.3M692.65 348.5V350.3M696.34 348.5V350.3M700.03 348.5V350.3M703.72 348.5V350.3M711.09 348.5V350.3M714.78 348.5V350.3M718.47 348.5V350.3M722.16 348.5V350.3M725.85 348.5V350.3M729.54 348.5V350.3M733.23 348.5V350.3M736.92 348.5V350.3M740.61 348.5V350.3M747.98 348.5V350.3M751.67 348.5V350.3M755.36 348.5V350.3M759.05 348.5V350.3M762.74 348.5V350.3M766.43 348.5V350.3M770.12 348.5V350.3M773.81 348.5V350.3M777.50 348.5V350.3M784.87 348.5V350.3M788.56 348.5V350.3M792.25 348.5V350.3M795.94 348.5V350.3M799.63 348.5V350.3M803.32 348.5V350.3M807.01 348.5V350.3M810.70 348.5V350.3M814.39 348.5V350.3M821.76 348.5V350.3M825.45 348.5V350.3M829.14 348.5V350.3M832.83 348.5V350.3M836.52 348.5V350.3M840.21 348.5V350.3M843.90 348.5V350.3M847.59 348.5V350.3M851.28 348.5V350.3M858.65 348.5V350.3M862.34 348.5V350.3M866.03 348.5V350.3M869.72 348.5V350.3M873.41 348.5V350.3M877.10 348.5V350.3M880.79 348.5V350.3M884.48 348.5V350.3M888.17 348.5V350.3M895.54 348.5V350.3M899.23 348.5V350.3M902.92 348.5V350.3M906.61 348.5V350.3M910.30 348.5V350.3M913.99 348.5V350.3M917.68 348.5V350.3M921.37 348.5V350.3M925.06 348.5V350.3M932.43 348.5V350.3M936.12 348.5V350.3M939.81 348.5V350.3M943.50 348.5V350.3M947.19 348.5V350.3" stroke="#66663a" stroke-width="1" fill="none"/>
<path d="M522.95 348.5V352.0M559.85 348.5V352.0M596.74 348.5V352.0M633.62 348.5V352.0M670.51 348.5V352.0M707.40 348.5V352.0M744.29 348.5V352.0M781.18 348.5V352.0M818.08 348.5V352.0M854.96 348.5V352.0M891.86 348.5V352.0M928.75 348.5V352.0" stroke="#333" stroke-width="1" fill="none"/>
<text x="523.155" y="365.4" font-size="11" fill="#000" text-anchor="middle" textLength="8.2" lengthAdjust="spacingAndGlyphs" style='font-family:"Liberation Sans",sans-serif' stroke="#000" stroke-width="0.22">70</text>
<text x="560.0450000000001" y="365.4" font-size="11" fill="#000" text-anchor="middle" textLength="8.2" lengthAdjust="spacingAndGlyphs" style='font-family:"Liberation Sans",sans-serif' stroke="#000" stroke-width="0.22">80</text>
<text x="596.9350000000001" y="365.4" font-size="11" fill="#000" text-anchor="middle" textLength="8.2" lengthAdjust="spacingAndGlyphs" style='font-family:"Liberation Sans",sans-serif' stroke="#000" stroke-width="0.22">90</text>
<text x="633.825" y="365.4" font-size="11" fill="#000" text-anchor="middle" textLength="12.2" lengthAdjust="spacingAndGlyphs" style='font-family:"Liberation Sans",sans-serif' stroke="#000" stroke-width="0.22">100</text>
<text x="670.715" y="365.4" font-size="11" fill="#000" text-anchor="middle" textLength="12.2" lengthAdjust="spacingAndGlyphs" style='font-family:"Liberation Sans",sans-serif' stroke="#000" stroke-width="0.22">110</text>
<text x="707.605" y="365.4" font-size="11" fill="#000" text-anchor="middle" textLength="12.2" lengthAdjust="spacingAndGlyphs" style='font-family:"Liberation Sans",sans-serif' stroke="#000" stroke-width="0.22">120</text>
<text x="744.495" y="365.4" font-size="11" fill="#000" text-anchor="middle" textLength="12.2" lengthAdjust="spacingAndGlyphs" style='font-family:"Liberation Sans",sans-serif' stroke="#000" stroke-width="0.22">130</text>
<text x="781.385" y="365.4" font-size="11" fill="#000" text-anchor="middle" textLength="12.2" lengthAdjust="spacingAndGlyphs" style='font-family:"Liberation Sans",sans-serif' stroke="#000" stroke-width="0.22">140</text>
<text x="818.2750000000001" y="365.4" font-size="11" fill="#000" text-anchor="middle" textLength="12.2" lengthAdjust="spacingAndGlyphs" style='font-family:"Liberation Sans",sans-serif' stroke="#000" stroke-width="0.22">150</text>
<text x="855.165" y="365.4" font-size="11" fill="#000" text-anchor="middle" textLength="12.2" lengthAdjust="spacingAndGlyphs" style='font-family:"Liberation Sans",sans-serif' stroke="#000" stroke-width="0.22">160</text>
<text x="892.0550000000001" y="365.4" font-size="11" fill="#000" text-anchor="middle" textLength="12.2" lengthAdjust="spacingAndGlyphs" style='font-family:"Liberation Sans",sans-serif' stroke="#000" stroke-width="0.22">170</text>
<text x="928.945" y="365.4" font-size="11" fill="#000" text-anchor="middle" textLength="12.2" lengthAdjust="spacingAndGlyphs" style='font-family:"Liberation Sans",sans-serif' stroke="#000" stroke-width="0.22">180</text>
<path d="M511.89 348.5V345.50M515.58 348.5V343.00M519.27 348.5V340.75M522.95 348.5V347.50M526.64 348.5V346.50M530.33 348.5V340.00M534.02 348.5V328.50M537.71 348.5V320.00M541.40 348.5V303.00M545.09 348.5V338.50M548.78 348.5V345.00M552.47 348.5V345.00M556.16 348.5V345.50M570.91 348.5V345.75M574.60 348.5V338.50M578.29 348.5V337.50M581.98 348.5V340.50M585.67 348.5V342.00M589.36 348.5V344.50M604.11 348.5V345.00M618.87 348.5V347.00M626.25 348.5V343.00M629.94 348.5V327.50M633.62 348.5V286.75M637.31 348.5V340.00M641.00 348.5V347.00M644.69 348.5V346.50M648.38 348.5V347.00M652.07 348.5V345.50M655.76 348.5V346.50M659.45 348.5V347.00M663.14 348.5V345.00M666.83 348.5V339.50M670.51 348.5V338.50M674.20 348.5V344.50M677.89 348.5V343.75M681.58 348.5V347.00M703.72 348.5V345.00M707.40 348.5V346.50M722.16 348.5V347.00M733.23 348.5V341.50M740.61 348.5V345.50M759.05 348.5V346.50M762.74 348.5V340.75M766.43 348.5V310.50M770.12 348.5V341.75M773.81 348.5V336.50M777.50 348.5V346.75M784.87 348.5V346.75M795.94 348.5V346.25M799.63 348.5V347.00M803.32 348.5V346.25M807.01 348.5V347.00M814.39 348.5V347.00M854.96 348.5V347.50M866.03 348.5V345.00M873.41 348.5V346.25M877.10 348.5V347.25M895.54 348.5V209.00M899.23 348.5V336.75M902.92 348.5V262.00M906.61 348.5V341.75M910.30 348.5V335.50M913.99 348.5V346.25M917.68 348.5V347.00M921.37 348.5V343.00M925.06 348.5V346.25M932.43 348.5V347.00M939.81 348.5V347.50" stroke="#3d3de0" stroke-width="1.2" fill="none"/>
<text x="519.466" y="338.25" font-size="11" fill="#000" text-anchor="middle" textLength="8.2" lengthAdjust="spacingAndGlyphs" style='font-family:"Liberation Sans",sans-serif' stroke="#000" stroke-width="0.22">69</text>
<text x="541.6" y="300.5" font-size="11" fill="#000" text-anchor="middle" textLength="8.2" lengthAdjust="spacingAndGlyphs" style='font-family:"Liberation Sans",sans-serif' stroke="#000" stroke-width="0.22">75</text>
<text x="578.49" y="335.0" font-size="11" fill="#000" text-anchor="middle" textLength="8.2" lengthAdjust="spacingAndGlyphs" style='font-family:"Liberation Sans",sans-serif' stroke="#000" stroke-width="0.22">85</text>
<text x="604.313" y="342.5" font-size="11" fill="#000" text-anchor="middle" textLength="8.2" lengthAdjust="spacingAndGlyphs" style='font-family:"Liberation Sans",sans-serif' stroke="#000" stroke-width="0.22">92</text>
<text x="633.825" y="284.25" font-size="11" fill="#000" text-anchor="middle" textLength="12.2" lengthAdjust="spacingAndGlyphs" style='font-family:"Liberation Sans",sans-serif' stroke="#000" stroke-width="0.22">100</text>
<text x="652.27" y="343.0" font-size="11" fill="#000" text-anchor="middle" textLength="12.2" lengthAdjust="spacingAndGlyphs" style='font-family:"Liberation Sans",sans-serif' stroke="#000" stroke-width="0.22">105</text>
<text x="670.715" y="336.0" font-size="11" fill="#000" text-anchor="middle" textLength="12.2" lengthAdjust="spacingAndGlyphs" style='font-family:"Liberation Sans",sans-serif' stroke="#000" stroke-width="0.22">110</text>
<text x="703.916" y="342.5" font-size="11" fill="#000" text-anchor="middle" textLength="12.2" lengthAdjust="spacingAndGlyphs" style='font-family:"Liberation Sans",sans-serif' stroke="#000" stroke-width="0.22">119</text>
<text x="733.428" y="339.0" font-size="11" fill="#000" text-anchor="middle" textLength="12.2" lengthAdjust="spacingAndGlyphs" style='font-family:"Liberation Sans",sans-serif' stroke="#000" stroke-width="0.22">127</text>
<text x="766.629" y="308.0" font-size="11" fill="#000" text-anchor="middle" textLength="12.2" lengthAdjust="spacingAndGlyphs" style='font-family:"Liberation Sans",sans-serif' stroke="#000" stroke-width="0.22">136</text>
<text x="796.1410000000001" y="343.75" font-size="11" fill="#000" text-anchor="middle" textLength="12.2" lengthAdjust="spacingAndGlyphs" style='font-family:"Liberation Sans",sans-serif' stroke="#000" stroke-width="0.22">144</text>
<text x="866.232" y="342.5" font-size="11" fill="#000" text-anchor="middle" textLength="12.2" lengthAdjust="spacingAndGlyphs" style='font-family:"Liberation Sans",sans-serif' stroke="#000" stroke-width="0.22">163</text>
<text x="895.744" y="206.5" font-size="11" fill="#000" text-anchor="middle" textLength="12.2" lengthAdjust="spacingAndGlyphs" style='font-family:"Liberation Sans",sans-serif' stroke="#000" stroke-width="0.22">171</text>
<text x="921.567" y="340.5" font-size="11" fill="#000" text-anchor="middle" textLength="12.2" lengthAdjust="spacingAndGlyphs" style='font-family:"Liberation Sans",sans-serif' stroke="#000" stroke-width="0.22">178</text>
<text x="480.7" y="379.6" font-size="10.5" fill="#000" text-anchor="start" textLength="179.5" lengthAdjust="spacingAndGlyphs" style='font-family:"Liberation Sans",sans-serif' stroke="#000" stroke-width="0.22">Library Hit - similarity 928, &quot;2,4-Dichlorobenzonitrile&quot;</text>
<line x1="504.5" y1="383.8" x2="504.5" y2="549.5" stroke="#6a6a3c" stroke-width="0.9"/>
<line x1="504" y1="549.5" x2="950" y2="549.5" stroke="#55552a" stroke-width="1"/>
<line x1="501" y1="520.90" x2="504" y2="520.90" stroke="#333" stroke-width="1"/>
<text x="499.2" y="524.6999999999999" font-size="11" fill="#000" text-anchor="end" textLength="13.2" lengthAdjust="spacingAndGlyphs" style='font-family:"Liberation Sans",sans-serif' stroke="#000" stroke-width="0.22">200</text>
<line x1="501" y1="493.30" x2="504" y2="493.30" stroke="#333" stroke-width="1"/>
<text x="499.2" y="497.1" font-size="11" fill="#000" text-anchor="end" textLength="13.2" lengthAdjust="spacingAndGlyphs" style='font-family:"Liberation Sans",sans-serif' stroke="#000" stroke-width="0.22">400</text>
<line x1="501" y1="465.70" x2="504" y2="465.70" stroke="#333" stroke-width="1"/>
<text x="499.2" y="469.5" font-size="11" fill="#000" text-anchor="end" textLength="13.2" lengthAdjust="spacingAndGlyphs" style='font-family:"Liberation Sans",sans-serif' stroke="#000" stroke-width="0.22">600</text>
<line x1="501" y1="438.10" x2="504" y2="438.10" stroke="#333" stroke-width="1"/>
<text x="499.2" y="441.90000000000003" font-size="11" fill="#000" text-anchor="end" textLength="13.2" lengthAdjust="spacingAndGlyphs" style='font-family:"Liberation Sans",sans-serif' stroke="#000" stroke-width="0.22">800</text>
<line x1="501" y1="410.50" x2="504" y2="410.50" stroke="#333" stroke-width="1"/>
<text x="500.2" y="414.3" font-size="11" fill="#000" text-anchor="end" textLength="16.0" lengthAdjust="spacingAndGlyphs" style='font-family:"Liberation Sans",sans-serif' stroke="#000" stroke-width="0.22">1000</text>
<path d="M503 548.50H504M503 545.74H504M503 542.98H504M503 540.22H504M503 537.46H504M503 534.70H504M503 531.94H504M503 529.18H504M503 526.42H504M503 523.66H504M503 520.90H504M503 518.14H504M503 515.38H504M503 512.62H504M503 509.86H504M503 507.10H504M503 504.34H504M503 501.58H504M503 498.82H504M503 496.06H504M503 493.30H504M503 490.54H504M503 487.78H504M503 485.02H504M503 482.26H504M503 479.50H504M503 476.74H504M503 473.98H504M503 471.22H504M503 468.46H504M503 465.70H504M503 462.94H504M503 460.18H504M503 457.42H504M503 454.66H504M503 451.90H504M503 449.14H504M503 446.38H504M503 443.62H504M503 440.86H504M503 438.10H504M503 435.34H504M503 432.58H504M503 429.82H504M503 427.06H504M503 424.30H504M503 421.54H504M503 418.78H504M503 416.02H504M503 413.26H504M503 410.50H504M503 407.74H504M503 404.98H504M503 402.22H504M503 399.46H504M503 396.70H504M503 393.94H504M503 391.18H504M503 388.42H504M503 385.66H504" stroke="#7a7a48" stroke-width="1" fill="none"/>
<path d="M508.20 549.5V551.3M511.89 549.5V551.3M515.58 549.5V551.3M519.27 549.5V551.3M526.64 549.5V551.3M530.33 549.5V551.3M534.02 549.5V551.3M537.71 549.5V551.3M541.40 549.5V551.3M545.09 549.5V551.3M548.78 549.5V551.3M552.47 549.5V551.3M556.16 549.5V551.3M563.53 549.5V551.3M567.22 549.5V551.3M570.91 549.5V551.3M574.60 549.5V551.3M578.29 549.5V551.3M581.98 549.5V551.3M585.67 549.5V551.3M589.36 549.5V551.3M593.05 549.5V551.3M600.42 549.5V551.3M604.11 549.5V551.3M607.80 549.5V551.3M611.49 549.5V551.3M615.18 549.5V551.3M618.87 549.5V551.3M622.56 549.5V551.3M626.25 549.5V551.3M629.94 549.5V551.3M637.31 549.5V551.3M641.00 549.5V551.3M644.69 549.5V551.3M648.38 549.5V551.3M652.07 549.5V551.3M655.76 549.5V551.3M659.45 549.5V551.3M663.14 549.5V551.3M666.83 549.5V551.3M674.20 549.5V551.3M677.89 549.5V551.3M681.58 549.5V551.3M685.27 549.5V551.3M688.96 549.5V551.3M692.65 549.5V551.3M696.34 549.5V551.3M700.03 549.5V551.3M703.72 549.5V551.3M711.09 549.5V551.3M714.78 549.5V551.3M718.47 549.5V551.3M722.16 549.5V551.3M725.85 549.5V551.3M729.54 549.5V551.3M733.23 549.5V551.3M736.92 549.5V551.3M740.61 549.5V551.3M747.98 549.5V551.3M751.67 549.5V551.3M755.36 549.5V551.3M759.05 549.5V551.3M762.74 549.5V551.3M766.43 549.5V551.3M770.12 549.5V551.3M773.81 549.5V551.3M777.50 549.5V551.3M784.87 549.5V551.3M788.56 549.5V551.3M792.25 549.5V551.3M795.94 549.5V551.3M799.63 549.5V551.3M803.32 549.5V551.3M807.01 549.5V551.3M810.70 549.5V551.3M814.39 549.5V551.3M821.76 549.5V551.3M825.45 549.5V551.3M829.14 549.5V551.3M832.83 549.5V551.3M836.52 549.5V551.3M840.21 549.5V551.3M843.90 549.5V551.3M847.59 549.5V551.3M851.28 549.5V551.3M858.65 549.5V551.3M862.34 549.5V551.3M866.03 549.5V551.3M869.72 549.5V551.3M873.41 549.5V551.3M877.10 549.5V551.3M880.79 549.5V551.3M884.48 549.5V551.3M888.17 549.5V551.3M895.54 549.5V551.3M899.23 549.5V551.3M902.92 549.5V551.3M906.61 549.5V551.3M910.30 549.5V551.3M913.99 549.5V551.3M917.68 549.5V551.3M921.37 549.5V551.3M925.06 549.5V551.3M932.43 549.5V551.3M936.12 549.5V551.3M939.81 549.5V551.3M943.50 549.5V551.3M947.19 549.5V551.3" stroke="#66663a" stroke-width="1" fill="none"/>
<path d="M522.95 549.5V553.0M559.85 549.5V553.0M596.74 549.5V553.0M633.62 549.5V553.0M670.51 549.5V553.0M707.40 549.5V553.0M744.29 549.5V553.0M781.18 549.5V553.0M818.08 549.5V553.0M854.96 549.5V553.0M891.86 549.5V553.0M928.75 549.5V553.0" stroke="#333" stroke-width="1" fill="none"/>
<text x="523.155" y="566.4" font-size="11" fill="#000" text-anchor="middle" textLength="8.2" lengthAdjust="spacingAndGlyphs" style='font-family:"Liberation Sans",sans-serif' stroke="#000" stroke-width="0.22">70</text>
<text x="560.0450000000001" y="566.4" font-size="11" fill="#000" text-anchor="middle" textLength="8.2" lengthAdjust="spacingAndGlyphs" style='font-family:"Liberation Sans",sans-serif' stroke="#000" stroke-width="0.22">80</text>
<text x="596.9350000000001" y="566.4" font-size="11" fill="#000" text-anchor="middle" textLength="8.2" lengthAdjust="spacingAndGlyphs" style='font-family:"Liberation Sans",sans-serif' stroke="#000" stroke-width="0.22">90</text>
<text x="633.825" y="566.4" font-size="11" fill="#000" text-anchor="middle" textLength="12.2" lengthAdjust="spacingAndGlyphs" style='font-family:"Liberation Sans",sans-serif' stroke="#000" stroke-width="0.22">100</text>
<text x="670.715" y="566.4" font-size="11" fill="#000" text-anchor="middle" textLength="12.2" lengthAdjust="spacingAndGlyphs" style='font-family:"Liberation Sans",sans-serif' stroke="#000" stroke-width="0.22">110</text>
<text x="707.605" y="566.4" font-size="11" fill="#000" text-anchor="middle" textLength="12.2" lengthAdjust="spacingAndGlyphs" style='font-family:"Liberation Sans",sans-serif' stroke="#000" stroke-width="0.22">120</text>
<text x="744.495" y="566.4" font-size="11" fill="#000" text-anchor="middle" textLength="12.2" lengthAdjust="spacingAndGlyphs" style='font-family:"Liberation Sans",sans-serif' stroke="#000" stroke-width="0.22">130</text>
<text x="781.385" y="566.4" font-size="11" fill="#000" text-anchor="middle" textLength="12.2" lengthAdjust="spacingAndGlyphs" style='font-family:"Liberation Sans",sans-serif' stroke="#000" stroke-width="0.22">140</text>
<text x="818.2750000000001" y="566.4" font-size="11" fill="#000" text-anchor="middle" textLength="12.2" lengthAdjust="spacingAndGlyphs" style='font-family:"Liberation Sans",sans-serif' stroke="#000" stroke-width="0.22">150</text>
<text x="855.165" y="566.4" font-size="11" fill="#000" text-anchor="middle" textLength="12.2" lengthAdjust="spacingAndGlyphs" style='font-family:"Liberation Sans",sans-serif' stroke="#000" stroke-width="0.22">160</text>
<text x="892.0550000000001" y="566.4" font-size="11" fill="#000" text-anchor="middle" textLength="12.2" lengthAdjust="spacingAndGlyphs" style='font-family:"Liberation Sans",sans-serif' stroke="#000" stroke-width="0.22">170</text>
<text x="928.945" y="566.4" font-size="11" fill="#000" text-anchor="middle" textLength="12.2" lengthAdjust="spacingAndGlyphs" style='font-family:"Liberation Sans",sans-serif' stroke="#000" stroke-width="0.22">180</text>
<path d="M515.58 549.5V544.25M526.64 549.5V547.00M530.33 549.5V541.25M534.02 549.5V534.25M537.71 549.5V529.50M541.40 549.5V524.25M545.09 549.5V540.75M548.78 549.5V548.00M570.91 549.5V547.50M574.60 549.5V540.75M578.29 549.5V539.50M581.98 549.5V539.50M589.36 549.5V546.50M615.18 549.5V548.00M618.87 549.5V547.50M622.56 549.5V546.75M626.25 549.5V545.00M629.94 549.5V532.50M633.62 549.5V503.75M637.31 549.5V543.00M659.45 549.5V547.00M663.14 549.5V546.25M666.83 549.5V540.25M670.51 549.5V540.75M674.20 549.5V545.00M677.89 549.5V546.25M681.58 549.5V548.25M707.40 549.5V547.50M722.16 549.5V548.00M747.98 549.5V548.25M755.36 549.5V548.25M759.05 549.5V547.50M762.74 549.5V542.50M766.43 549.5V515.75M770.12 549.5V543.75M773.81 549.5V538.00M777.50 549.5V547.50M795.94 549.5V546.75M799.63 549.5V548.00M803.32 549.5V546.75M895.54 549.5V409.50M899.23 549.5V536.75M902.92 549.5V457.00M906.61 549.5V540.75M910.30 549.5V533.00M913.99 549.5V547.50" stroke="#3d3de0" stroke-width="1.2" fill="none"/>
<text x="515.777" y="541.75" font-size="11" fill="#000" text-anchor="middle" textLength="8.2" lengthAdjust="spacingAndGlyphs" style='font-family:"Liberation Sans",sans-serif' stroke="#000" stroke-width="0.22">68</text>
<text x="541.6" y="521.75" font-size="11" fill="#000" text-anchor="middle" textLength="8.2" lengthAdjust="spacingAndGlyphs" style='font-family:"Liberation Sans",sans-serif' stroke="#000" stroke-width="0.22">75</text>
<text x="578.49" y="537.0" font-size="11" fill="#000" text-anchor="middle" textLength="8.2" lengthAdjust="spacingAndGlyphs" style='font-family:"Liberation Sans",sans-serif' stroke="#000" stroke-width="0.22">85</text>
<text x="633.825" y="501.25" font-size="11" fill="#000" text-anchor="middle" textLength="12.2" lengthAdjust="spacingAndGlyphs" style='font-family:"Liberation Sans",sans-serif' stroke="#000" stroke-width="0.22">100</text>
<text x="667.0260000000001" y="537.75" font-size="11" fill="#000" text-anchor="middle" textLength="12.2" lengthAdjust="spacingAndGlyphs" style='font-family:"Liberation Sans",sans-serif' stroke="#000" stroke-width="0.22">109</text>
<text x="766.629" y="513.25" font-size="11" fill="#000" text-anchor="middle" textLength="12.2" lengthAdjust="spacingAndGlyphs" style='font-family:"Liberation Sans",sans-serif' stroke="#000" stroke-width="0.22">136</text>
<text x="796.1410000000001" y="544.25" font-size="11" fill="#000" text-anchor="middle" textLength="12.2" lengthAdjust="spacingAndGlyphs" style='font-family:"Liberation Sans",sans-serif' stroke="#000" stroke-width="0.22">144</text>
<text x="895.744" y="407.0" font-size="11" fill="#000" text-anchor="middle" textLength="12.2" lengthAdjust="spacingAndGlyphs" style='font-family:"Liberation Sans",sans-serif' stroke="#000" stroke-width="0.22">171</text>
</g>
</g>
<line x1="328" y1="143.75" x2="368" y2="215.5" stroke="#000" stroke-width="0.9"/>
<text x="178.4" y="131.8" font-size="30" fill="#000" text-anchor="start" textLength="152.8" lengthAdjust="spacingAndGlyphs" style='font-family:"DejaVu Sans","Liberation Sans",sans-serif' stroke="#000" stroke-width="0.75">Dichlobenil</text>
<text x="160.4" y="672.7" font-size="32" fill="#000" text-anchor="start" textLength="462.6" lengthAdjust="spacingAndGlyphs" style='font-family:"Liberation Sans",sans-serif' >All dichlorobenil identified peaks:</text>
<text x="0" y="0" transform="translate(117 666) scale(1.09 1)" font-size="44" font-weight="bold" text-anchor="middle" style='font-family:"Liberation Sans",sans-serif'>*</text>
</svg>
</body></html>
